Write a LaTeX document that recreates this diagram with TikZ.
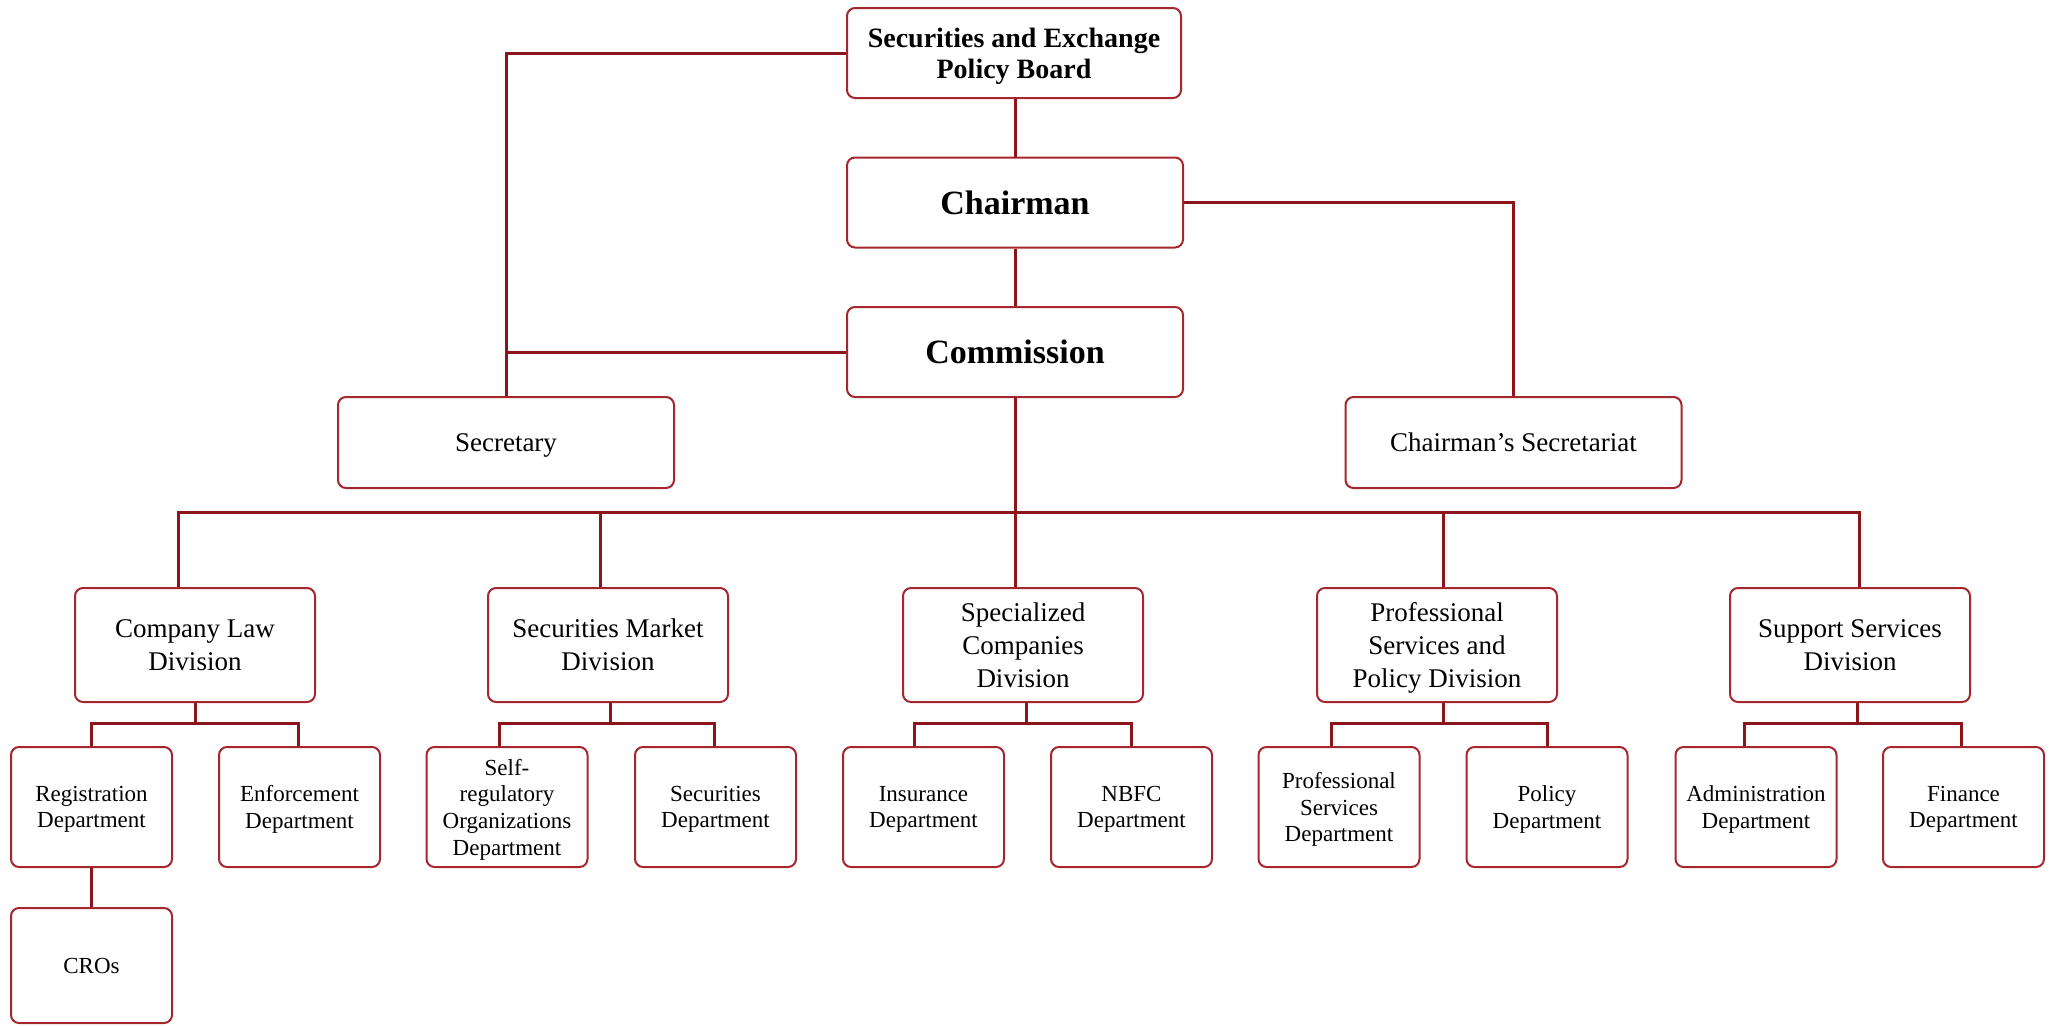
\documentclass[tikz,border=0pt]{standalone}
\usepackage{fontspec}
\setmainfont{Liberation Serif}
\definecolor{linered}{RGB}{139,21,26}
\definecolor{boxred}{RGB}{165,38,44}
\begin{document}
\begin{tikzpicture}[x=0.5pt,y=-0.5pt,
 box/.style={draw=boxred, line width=1pt, rounded corners=4pt, fill=white, align=center, inner sep=0pt, text depth=0pt},
 topbox/.style={box, minimum width=168pt, minimum height=45pt, font=\fontsize{17}{20}\selectfont\bfseries},
 pbbox/.style={box, minimum width=167pt, minimum height=45pt, font=\fontsize{14}{15.5}\selectfont\bfseries},
 midbox/.style={box, minimum width=168pt, minimum height=45.5pt, font=\fontsize{13.5}{16}\selectfont},
 divbox/.style={box, minimum width=120pt, minimum height=57pt, font=\fontsize{13.5}{16.5}\selectfont},
 deptbox/.style={box, minimum width=80.5pt, minimum height=60pt, font=\fontsize{11.5}{13.3}\selectfont},
 crobox/.style={box, minimum width=80.5pt, minimum height=57.5pt, font=\fontsize{11.5}{13.3}\selectfont},
 conn/.style={draw=linered, line width=1.5pt, line join=miter}]

\useasboundingbox (0,0) rectangle (2053,1025);

% top
\node[pbbox]  (pb) at (1014,53)    {Securities and Exchange\\Policy Board};
\node[topbox] (ch) at (1015,202.5) {Chairman};
\node[topbox] (cm) at (1015,352)   {Commission};
\node[midbox] (sec) at (506,442.5)  {Secretary};
\node[midbox] (cs)  at (1513.5,442.5) {Chairman’s Secretariat};

% divisions
\node[divbox] (d1) at (195,645)  {Company Law\\Division};
\node[divbox] (d2) at (608,645)  {Securities Market\\Division};
\node[divbox] (d3) at (1023,645) {Specialized\\Companies\\Division};
\node[divbox] (d4) at (1437,645) {Professional\\Services and\\Policy Division};
\node[divbox] (d5) at (1850,645) {Support Services\\Division};

% departments
\node[deptbox] (r1)  at (91.5,807)   {Registration\\Department};
\node[deptbox] (r2)  at (299.5,807)  {Enforcement\\Department};
\node[deptbox] (r3)  at (507,807)    {Self-\\regulatory\\Organizations\\Department};
\node[deptbox] (r4)  at (715.5,807)  {Securities\\Department};
\node[deptbox] (r5)  at (923.5,807)  {Insurance\\Department};
\node[deptbox] (r6)  at (1131.5,807) {NBFC\\Department};
\node[deptbox] (r7)  at (1339,807)   {Professional\\Services\\Department};
\node[deptbox] (r8)  at (1547,807)   {Policy\\Department};
\node[deptbox] (r9)  at (1756,807)   {Administration\\Department};
\node[deptbox] (r10) at (1963.5,807) {Finance\\Department};
\node[crobox]  (cros) at (91.5,965.5) {CROs};

% bus coordinates
\coordinate (b1) at (178,512);
\coordinate (b2) at (600,512);
\coordinate (b3) at (1015,512);
\coordinate (b4) at (1443,512);
\coordinate (b5) at (1859,512);

\coordinate (ta1) at (91,723);   \coordinate (tb1) at (298,723);  \coordinate (tm1) at (195,723);
\coordinate (ta2) at (499,723);  \coordinate (tb2) at (714,723);  \coordinate (tm2) at (610,723);
\coordinate (ta3) at (914,723);  \coordinate (tb3) at (1131,723); \coordinate (tm3) at (1026,723);
\coordinate (ta4) at (1331,723); \coordinate (tb4) at (1547,723); \coordinate (tm4) at (1443,723);
\coordinate (ta5) at (1744,723); \coordinate (tb5) at (1961,723); \coordinate (tm5) at (1857,723);

% connectors top
\draw[conn] (pb.west) -| (sec.north);
\draw[conn] (cm.west) -- (cm.west -| sec.north);
\draw[conn] (ch.east) -| (cs.north);
\draw[conn] (ch.north |- pb.south) -- (ch.north);
\draw[conn] (ch.south) -- (cm.north);
\draw[conn] (cm.south) -- (cm.south |- b1);
\draw[conn] (b1 |- d1.north) -- (b1) -- (b5) -- (b5 |- d5.north);
\draw[conn] (b2) -- (b2 |- d2.north);
\draw[conn] (b3) -- (b3 |- d3.north);
\draw[conn] (b4) -- (b4 |- d4.north);

% sub-buses
\draw[conn] (ta1 |- r1.north) -- (ta1) -- (tb1) -- (tb1 |- r2.north);
\draw[conn] (tm1 |- d1.south) -- (tm1);
\draw[conn] (ta2 |- r3.north) -- (ta2) -- (tb2) -- (tb2 |- r4.north);
\draw[conn] (tm2 |- d2.south) -- (tm2);
\draw[conn] (ta3 |- r5.north) -- (ta3) -- (tb3) -- (tb3 |- r6.north);
\draw[conn] (tm3 |- d3.south) -- (tm3);
\draw[conn] (ta4 |- r7.north) -- (ta4) -- (tb4) -- (tb4 |- r8.north);
\draw[conn] (tm4 |- d4.south) -- (tm4);
\draw[conn] (ta5 |- r9.north) -- (ta5) -- (tb5) -- (tb5 |- r10.north);
\draw[conn] (tm5 |- d5.south) -- (tm5);

\draw[conn] (r1.south) -- (cros.north);
\end{tikzpicture}
\end{document}
